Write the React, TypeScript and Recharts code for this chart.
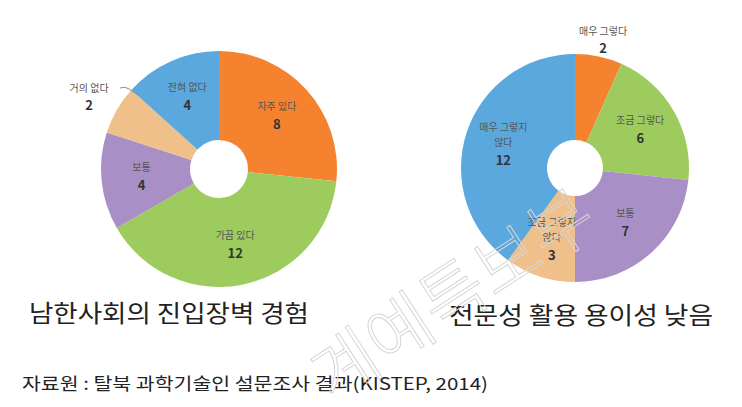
import React from "react";
import { PieChart, Pie, Cell } from "recharts";

const leftNames = ["자주 있다", "가끔 있다", "보통", "거의 없다", "전혀 없다"];
const leftValues = [8, 12, 4, 2, 4];
const rightNames = ["매우 그렇다", "조금 그렇다", "보통", "조금 그렇지 않다", "매우 그렇지 않다"];
const rightValues = [2, 6, 7, 3, 12];
const colors = ["#F5822F", "#9DCB5D", "#A890C6", "#EFC08A", "#5BA8DE"];
const leftTitle = "남한사회의 진입장벽 경험";
const rightTitle = "전문성 활용 용이성 낮음";
const sourceText = "자료원 : 탈북 과학기술인 설문조사 결과(KISTEP, 2014)";

const leftData = leftNames.map((name, i) => ({ name, value: leftValues[i] }));
const rightData = rightNames.map((name, i) => ({ name, value: rightValues[i] }));

const RAD = Math.PI / 180;
const FONT = "'Noto Sans CJK KR', 'Noto Sans', sans-serif";

function wrap(name: string): string[] {
  if (name.length > 6) {
    const k = name.lastIndexOf(" ");
    return [name.slice(0, k), name.slice(k + 1)];
  }
  return [name];
}

const makeLabel = (side: "left" | "right") => (p: any) => {
  const { cx, cy, midAngle, innerRadius, outerRadius, percent, name, value } = p;
  const outside = percent < 0.08;
  const lines = wrap(name);
  if (outside) {
    if (side === "left") {
      const r = 150;
      const x = cx + r * Math.cos(-midAngle * RAD);
      const y = cy + r * Math.sin(-midAngle * RAD) + 2;
      return (
        <g>
          <path d={`M${x + 31},${y - 8} q5,-2 9,1 t10,6`} stroke="#888" fill="none" strokeWidth={1} />
          <text x={x} y={y - 4} textAnchor="middle" fontFamily={FONT} fontSize={10} fill="#555">{name}</text>
          <text x={x} y={y + 14} textAnchor="middle" fontFamily={FONT} fontSize={13} fontWeight={700} fill="#333">{value}</text>
        </g>
      );
    }
    const r = 135;
    const x = cx + r * Math.cos(-midAngle * RAD);
    const y = cy + r * Math.sin(-midAngle * RAD);
    return (
      <g>
        <text x={x} y={y - 1} textAnchor="middle" fontFamily={FONT} fontSize={10} fill="#555">{name}</text>
        <text x={x} y={y + 17} textAnchor="middle" fontFamily={FONT} fontSize={13} fontWeight={700} fill="#333">{value}</text>
      </g>
    );
  }
  const r = innerRadius + (outerRadius - innerRadius) * 0.55;
  const x = cx + r * Math.cos(-midAngle * RAD);
  const y = cy + r * Math.sin(-midAngle * RAD);
  const n = lines.length;
  const top = y - (n * 15 + 18) / 2 + 10;
  return (
    <g>
      {lines.map((l, i) => (
        <text key={i} x={x} y={top + i * 15} textAnchor="middle" fontFamily={FONT} fontSize={10} fill="#555">{l}</text>
      ))}
      <text x={x} y={top + n * 15 + 4} textAnchor="middle" fontFamily={FONT} fontSize={13} fontWeight={700} fill="#333">{value}</text>
    </g>
  );
};

export default function App() {
  return (
    <div style={{ position: "absolute", left: 0, top: 0, width: 742, height: 407, background: "#fff" }}>
      <PieChart width={742} height={407}>
        <Pie
          data={leftData}
          dataKey="value"
          nameKey="name"
          cx={214}
          cy={164}
          innerRadius={29}
          outerRadius={118}
          startAngle={90}
          endAngle={-270}
          stroke="none"
          label={makeLabel("left")}
          labelLine={false}
          isAnimationActive={false}
        >
          {leftData.map((d, i) => (
            <Cell key={d.name} fill={colors[i]} />
          ))}
        </Pie>
        <Pie
          data={rightData}
          dataKey="value"
          nameKey="name"
          cx={570}
          cy={163}
          innerRadius={28}
          outerRadius={114}
          startAngle={90}
          endAngle={-270}
          stroke="none"
          label={makeLabel("right")}
          labelLine={false}
          isAnimationActive={false}
        >
          {rightData.map((d, i) => (
            <Cell key={d.name} fill={colors[i]} />
          ))}
        </Pie>
      </PieChart>
      <svg width={742} height={407} style={{ position: "absolute", left: 0, top: 0, pointerEvents: "none" }}>
        <text x={29} y={322} fontFamily={FONT} fontSize={24} fill="#222" textLength={280} lengthAdjust="spacingAndGlyphs">{leftTitle}</text>
        <text x={449} y={324} fontFamily={FONT} fontSize={24} fill="#222" textLength={264} lengthAdjust="spacingAndGlyphs">{rightTitle}</text>
        <text x={22} y={390} fontFamily={FONT} fontSize={17} fill="#222" textLength={466} lengthAdjust="spacingAndGlyphs">{sourceText}</text>
        <text
          x={0}
          y={0}
          transform="translate(332,404) rotate(-33)"
          fontFamily={FONT}
          fontSize={70}
          fontWeight={300}
          fill="none"
          stroke="#d6d6d6"
          strokeWidth={1}
        >
          계예특보부
        </text>
      </svg>
    </div>
  );
}
